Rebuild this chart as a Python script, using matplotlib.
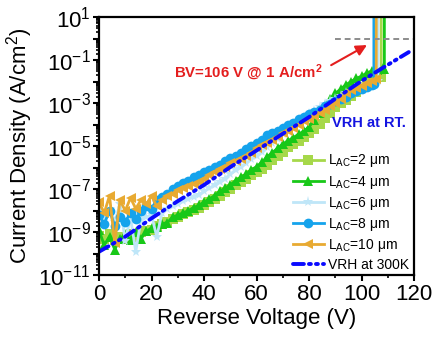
import numpy as np
import matplotlib
matplotlib.use('Agg')
import matplotlib.pyplot as plt
from matplotlib.ticker import LogLocator, MultipleLocator, FuncFormatter, NullFormatter

plt.rcParams['font.family'] = ['Liberation Sans', 'DejaVu Sans']
plt.rcParams['mathtext.fontset'] = 'custom'
plt.rcParams['mathtext.rm'] = 'Liberation Sans'
plt.rcParams['mathtext.it'] = 'Liberation Sans:italic'
plt.rcParams['mathtext.bf'] = 'Liberation Sans:bold'

# reverse voltage sweep (V), 2 V steps up to 104 V
voltage = np.arange(0, 105, 2)

# log10 of current density (A/cm^2)
lac2 = [-9.15, -9.3, -9.1, -9.35, -9.2, -9.3, -9.1, -9.2, -9.0, -8.95,
        -8.9, -8.7, -8.6, -8.5, -8.4, -8.3, -8.15, -8.05, -7.95, -7.85,
        -7.75, -7.6, -7.45, -7.3, -7.15, -7.0, -6.8, -6.65, -6.5, -6.35,
        -6.2, -6.05, -5.85, -5.65, -5.45, -5.25, -5.05, -4.9, -4.75, -4.55,
        -4.4, -4.2, -3.95, -3.7, -3.45, -3.2, -3.0, -2.85, -2.65, -2.5,
        -2.25, -2.0, -1.85]
lac4 = [-8.9, -9.6, -9.2, -9.8, -9.3, -9.1, -9.35, -9.0, -9.3, -8.95,
        -8.8, -8.75, -8.6, -8.55, -8.3, -8.2, -8.1, -8.0, -7.85, -7.75,
        -7.6, -7.45, -7.3, -7.1, -6.95, -6.8, -6.6, -6.45, -6.3, -6.1,
        -5.95, -5.75, -5.5, -5.3, -5.1, -4.9, -4.75, -4.6, -4.45, -4.3,
        -4.1, -3.8, -3.45, -3.1, -2.8, -2.55, -2.35, -2.15, -2.0, -1.85,
        -1.75, -1.6, -1.5]
lac6 = [-7.7, -8.3, -7.9, -8.5, -7.7, -9.4, -8.3, -9.9, -8.4, -8.3,
        -8.2, -9.2, -8.1, -7.9, -7.8, -7.7, -7.55, -7.45, -7.35, -7.25,
        -7.1, -6.95, -6.8, -6.65, -6.5, -6.3, -6.1, -5.95, -5.8, -5.6,
        -5.45, -5.25, -5.05, -4.85, -4.65, -4.45, -4.25, -4.0, -3.85, -3.7,
        -3.5, -3.35, -3.2, -3.05, -2.9, -2.8, -2.65, -2.55, -2.45, -2.35,
        -2.25, -2.15, -2.05]
lac8 = [-8.2, -8.6, -8.0, -8.7, -8.3, -8.5, -8.1, -8.4, -8.0, -7.8,
        -7.9, -7.5, -7.35, -7.2, -7.0, -6.85, -6.7, -6.6, -6.45, -6.35,
        -6.2, -6.1, -5.95, -5.85, -5.7, -5.55, -5.45, -5.3, -5.15, -5.0,
        -4.85, -4.7, -4.5, -4.4, -4.3, -4.15, -4.0, -3.9, -3.75, -3.65,
        -3.5, -3.4, -3.3, -3.15, -3.05, -2.9, -2.8, -2.7, -2.55, -2.45,
        -2.35, -2.25, -2.15]
lac10 = [-7.6, -8.1, -7.3, -9.5, -7.5, -8.0, -7.4, -7.9, -7.5, -7.7,
         -7.3, -7.8, -7.5, -7.3, -7.2, -7.05, -6.95, -6.85, -6.75, -6.65,
         -6.5, -6.35, -6.2, -6.05, -5.95, -5.8, -5.7, -5.6, -5.45, -5.3,
         -5.1, -4.95, -4.85, -4.7, -4.55, -4.4, -4.3, -4.15, -4.0, -3.85,
         -3.75, -3.6, -3.45, -3.3, -3.15, -3.0, -2.8, -2.55, -2.4, -2.3,
         -2.2, -2.05, -1.95]

# breakdown tails (voltage, log10 J); last point is off the top of the axes
lac2_tail_v = [106, 107.5, 107.5]
lac2_tail = [-1.75, -1.8, 1.5]
lac4_tail_v = [106, 108, 108.7, 108.7]
lac4_tail = [-1.45, -1.35, -1.4, 1.5]
lac6_tail_v = [106.3, 106.3]
lac6_tail = [-1.95, 1.5]
lac8_tail_v = [104.7, 104.7]
lac8_tail = [-2.1, 1.5]
lac10_tail_v = [105.6, 105.6]
lac10_tail = [-1.9, 1.5]

# variable-range-hopping fit at 300 K
vrh_v = [0, 10, 20, 30, 40, 50, 60, 70, 80, 90, 100, 110, 118]
vrh = [-9.9, -9.2, -8.35, -7.55, -6.8, -5.97, -5.2, -4.42, -3.65, -2.8,
       -1.97, -1.22, -0.63]

series = [
    (lac2, lac2_tail_v, lac2_tail, '#a6d84a', 's', 6.5, 'L$_{\\mathregular{AC}}$=2 \u03bcm'),
    (lac4, lac4_tail_v, lac4_tail, '#18c818', '^', 7, 'L$_{\\mathregular{AC}}$=4 \u03bcm'),
    (lac6, lac6_tail_v, lac6_tail, '#bfe6f8', '*', 8, 'L$_{\\mathregular{AC}}$=6 \u03bcm'),
    (lac8, lac8_tail_v, lac8_tail, '#15a3ec', 'o', 7, 'L$_{\\mathregular{AC}}$=8 \u03bcm'),
    (lac10, lac10_tail_v, lac10_tail, '#e8aa32', '<', 7, 'L$_{\\mathregular{AC}}$=10 \u03bcm'),
]

fig = plt.figure(figsize=(4.4, 3.4), dpi=100)
ax = fig.add_axes([0.225, 0.19, 0.716, 0.76])

for logj, tv, tj, color, marker, ms, label in series:
    v = np.concatenate([voltage, tv])
    j = 10 ** np.concatenate([logj, tj])
    ax.plot(v, j, color=color, marker=marker, markersize=ms, lw=2,
            markeredgewidth=0, label=label)

ax.plot(vrh_v, 10 ** np.array(vrh), color='#0a0aff', lw=2.8,
        dashes=(2.8, 1.3, 0.5, 1.3, 0.5, 1.3), dash_capstyle='round',
        label='VRH at 300K')

# 1 A/cm^2 criterion
ax.plot([90, 120], [1, 1], color='#8c8c8c', lw=1.4, ls=(0, (3, 2)))
ax.annotate('', xy=(103, 10 ** -0.24), xytext=(87.5, 10 ** -1.3),
            arrowprops=dict(arrowstyle='-|>', color='#e41e1e', lw=1.5,
                            mutation_scale=16))
ax.text(28.6, 10 ** -1.62, r'BV=106 V @ 1 A/cm$^{\mathbf{2}}$',
        color='#e41e1e', fontweight='bold', fontsize=10.8, va='center')
ax.text(88.6, 10 ** -3.94, 'VRH at RT.', color='#1414e0',
        fontweight='bold', fontsize=10.5, va='center')

ax.set_yscale('log')
ax.set_xlim(0, 120)
ax.set_ylim(1e-11, 1e1)
ax.xaxis.set_major_locator(MultipleLocator(20))
ax.xaxis.set_minor_locator(MultipleLocator(10))
ax.yaxis.set_major_locator(LogLocator(base=10, numticks=20))
ax.yaxis.set_minor_locator(LogLocator(base=10, subs=np.arange(2, 10), numticks=20))
ax.yaxis.set_minor_formatter(NullFormatter())


def yfmt(y, pos):
    e = int(round(np.log10(y)))
    if e % 2 == 0:
        return ''
    return r'$\mathregular{10^{%d}}$' % e


ax.yaxis.set_major_formatter(FuncFormatter(yfmt))
ax.tick_params(axis='both', which='major', direction='out', length=4,
               width=1.5, labelsize=16, pad=2)
ax.tick_params(axis='both', which='minor', direction='out', length=2.5,
               width=1.2)
for s in ax.spines.values():
    s.set_linewidth(1.6)

ax.set_xlabel('Reverse Voltage (V)', fontsize=16, labelpad=2)
ax.set_ylabel('Current Density (A/cm$^2$)', fontsize=16, labelpad=2)

ax.legend(loc='lower right', bbox_to_anchor=(1.01, -0.02), frameon=False,
          fontsize=10, handlelength=2.2, handletextpad=0.3,
          labelspacing=0.3, numpoints=1, borderaxespad=0.2)

fig.savefig('out.png', dpi=100)
